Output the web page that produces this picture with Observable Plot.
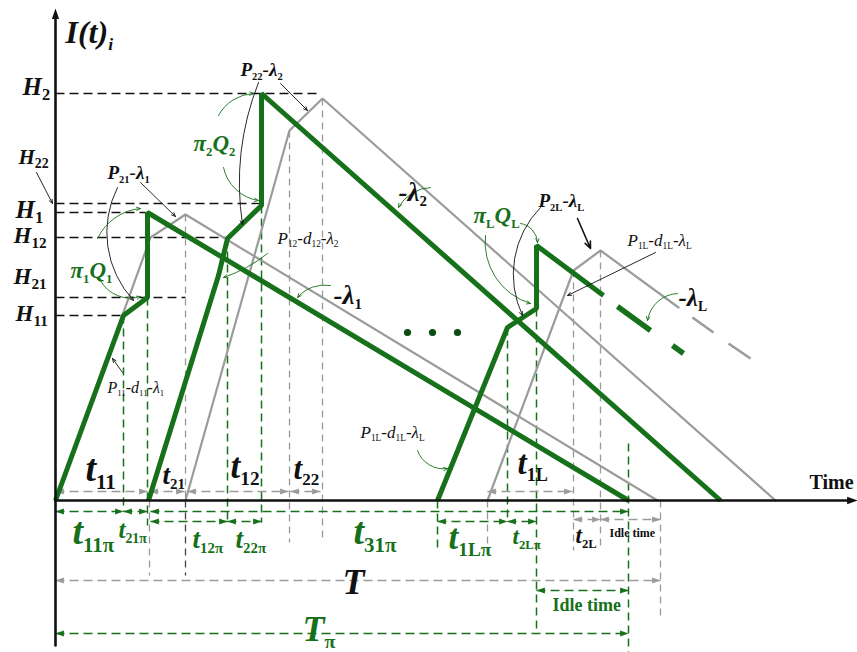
<!DOCTYPE html>
<html><head><meta charset="utf-8">
<script src="https://cdn.jsdelivr.net/npm/d3@7"></script>
<script src="https://cdn.jsdelivr.net/npm/@observablehq/plot@0.6"></script>
<style>body{margin:0;background:#fff}</style>
</head><body><div id="chart"></div>
<script>
// ---------- data (t = time units from origin, I = inventory level) ----------
const greenCycle1 = [{t:0,I:0},{t:68,I:185},{t:92,I:203},{t:92,I:288},{t:573,I:0}];
const greenCycle2 = [{t:93,I:0},{t:163,I:225},{t:172,I:262},{t:206,I:295},{t:206,I:407},{t:665,I:0}];
const greenCycleL = [{t:382,I:0},{t:452,I:173},{t:481,I:192},{t:481,I:255},{t:548,I:205}];
const greenLDashes = [{t1:562,I1:194,t2:595,I2:170},{t1:617,I1:155,t2:628,I2:147}];
const grayCycle1 = [{t:0,I:0},{t:95,I:263},{t:130,I:286},{t:602,I:0}];
const grayCycle2 = [{t:130,I:0},{t:234,I:370},{t:267,I:402},{t:720,I:0}];
const grayCycleL = [{t:432,I:0},{t:518,I:230},{t:545,I:250},{t:623,I:193}];
const grayLDashes = [{t1:637,I1:183,t2:658,I2:168},{t1:673,I1:157,t2:695,I2:142}];

const hLevels = [
  {name:"H_{2}", I:407, end:263, lt:-33, ly:406, size:25},
  {name:"H_{22}", I:297, end:207, lt:-37, ly:337, size:21},
  {name:"H_{1}", I:288, end:90, lt:-40, ly:283, size:25},
  {name:"H_{12}", I:263, end:170, lt:-42, ly:258, size:23},
  {name:"H_{21}", I:203, end:130, lt:-42, ly:217, size:23},
  {name:"H_{11}", I:185, end:70, lt:-40, ly:180, size:23}
];

const grayVert = [
  {t:94,from:0,to:-75},{t:130,from:286,to:0},{t:234,from:370,to:-42},{t:267,from:402,to:-42},
  {t:432,from:0,to:-52},{t:518,from:230,to:-50},{t:545,from:250,to:-50},{t:605,from:0,to:-117}
];
const darkVert = [{t:130,from:0,to:-75}];
const greenVert = [
  {t:68,from:185,to:-11},{t:92,from:203,to:-25},{t:172,from:262,to:-22},{t:206,from:295,to:-22},
  {t:382,from:0,to:-52},{t:452,from:173,to:-22},{t:481,from:192,to:-133},{t:573,from:57,to:-152}
];

const grayDims = [
  {t1:0,t2:92,I:9},{t1:94,t2:129,I:9},{t1:132,t2:233,I:9},{t1:235,t2:265,I:9},{t1:432,t2:517,I:9},
  {t1:518,t2:545,I:-19},{t1:545,t2:605,I:-19},{t1:0,t2:605,I:-80}
];
const greenDims = [
  {t1:0,t2:68,I:-11},{t1:68,t2:92,I:-11},{t1:95,t2:573,I:-11},
  {t1:95,t2:172,I:-21},{t1:172,t2:206,I:-21},{t1:382,t2:452,I:-21},{t1:452,t2:481,I:-21},
  {t1:481,t2:573,I:-90},{t1:0,t2:573,I:-133}
];

const blackBoldLabels = [
  {s:"I(t)_{i}", t:10, I:458, size:32},
  {s:"t_{11}", t:30, I:20, size:38},
  {s:"t_{21}", t:107, I:17, size:27},
  {s:"t_{12}", t:175, I:23, size:35},
  {s:"t_{22}", t:238, I:22, size:31},
  {s:"t_{1L}", t:462, I:27, size:33},
  {s:"t_{2L}", t:520, I:-42, size:23},
  {s:"T", t:287, I:-93, size:36},
  {s:"P_{22}-λ_{2}", t:185, I:425, size:19},
  {s:"P_{21}-λ_{1}", t:52, I:322, size:19},
  {s:"P_{2L}-λ_{L}", t:483, I:294, size:19},
  {s:"-λ_{1}", t:278, I:197, size:27},
  {s:"-λ_{2}", t:343, I:300, size:27},
  {s:"-λ_{L}", t:623, I:195, size:25}
];
const blackItalicLabels = [
  {s:"P_{12}-d_{12}-λ_{2}", t:222, I:257, size:17},
  {s:"P_{11}-d_{11}-λ_{1}", t:52, I:108, size:16},
  {s:"P_{1L}-d_{1L}-λ_{L}", t:305, I:63, size:17},
  {s:"P_{1L}-d_{1L}-λ_{L}", t:572, I:255, size:17}
];
const greenLabels = [
  {s:"t_{11π}", t:17, I:-43, size:38},
  {s:"t_{21π}", t:63, I:-37, size:25},
  {s:"t_{12π}", t:137, I:-47, size:27},
  {s:"t_{22π}", t:180, I:-47, size:27},
  {s:"t_{31π}", t:298, I:-43, size:38},
  {s:"t_{1Lπ}", t:393, I:-48, size:35},
  {s:"t_{2Lπ}", t:457, I:-43, size:23},
  {s:"T_{π}", t:247, I:-140, size:36},
  {s:"π_{1}Q_{1}", t:15, I:223, size:23},
  {s:"π_{2}Q_{2}", t:138, I:350, size:23},
  {s:"π_{L}Q_{L}", t:418, I:278, size:23}
];
const uprightLabels = [
  {s:"Time", t:754, I:12, size:20, c:"black"},
  {s:"Idle time", t:554, I:-36, size:12, c:"black"},
  {s:"Idle time", t:497, I:-110, size:18, c:"green"}
];

const ellipsis = [{t:352,I:168},{t:377,I:168},{t:402,I:168}];

const annotations = [
  {x1:-19,y1:328,x2:-3,y2:297,bend:0,c:"k"},
  {x1:85,y1:318,x2:120,y2:284,bend:0,c:"k"},
  {x1:62,y1:313,x2:78,y2:200,bend:-35,c:"k"},
  {x1:42,y1:262,x2:85,y2:292,bend:30,c:"g"},
  {x1:45,y1:220,x2:85,y2:204,bend:-40,c:"g"},
  {x1:225,y1:417,x2:252,y2:390,bend:0,c:"k"},
  {x1:203,y1:418,x2:187,y2:276,bend:-15,c:"k"},
  {x1:163,y1:385,x2:198,y2:407,bend:30,c:"g"},
  {x1:168,y1:333,x2:203,y2:300,bend:-35,c:"g"},
  {x1:212,y1:247,x2:168,y2:223,bend:10,c:"g"},
  {x1:275,y1:215,x2:242,y2:203,bend:-30,c:"g"},
  {x1:375,y1:313,x2:343,y2:293,bend:-30,c:"g"},
  {x1:67,y1:128,x2:57,y2:142,bend:0,c:"k"},
  {x1:362,y1:50,x2:392,y2:32,bend:-40,c:"g"},
  {x1:430,y1:265,x2:475,y2:197,bend:-40,c:"g"},
  {x1:465,y1:277,x2:482,y2:258,bend:40,c:"g"},
  {x1:485,y1:293,x2:467,y2:185,bend:-35,c:"k"},
  {x1:522,y1:282,x2:535,y2:252,bend:0,c:"k",w:1.6},
  {x1:600,y1:248,x2:512,y2:205,bend:0,c:"k"},
  {x1:622,y1:207,x2:592,y2:180,bend:-40,c:"g"}
];

const axisY = [{t:0,I:-145},{t:0,I:484}];
const axisX = [{t:0,I:0},{t:795,I:0}];
const axisHeads = [{t:0,I:492,rot:-90},{t:802,I:0,rot:0}];

// ---------- styling ----------
const GREEN = "#17701a", GRAY = "#9b9b9b", BLACK = "#111";
const SERIF = "'Liberation Serif','Times New Roman',serif";

const headSymbol = {
  draw(ctx, size) {
    const r = Math.sqrt(size / Math.PI);
    ctx.moveTo(0, 0);
    ctx.lineTo(-2 * r, -0.7 * r);
    ctx.lineTo(-2 * r, 0.7 * r);
    ctx.closePath();
  }
};
const headsOf = dims => dims.flatMap(d => [{t:d.t1, I:d.I, rot:180}, {t:d.t2, I:d.I, rot:0}]);

const textMark = (data, opts) => Plot.text(data, {
  x: "t", y: "I", text: "s", fontSize: "size", textAnchor: "start", lineAnchor: "bottom",
  fontFamily: SERIF, ...opts
});

const marks = [
  Plot.link(hLevels, {x1: () => 0, x2: "end", y1: "I", y2: "I", stroke: BLACK, strokeWidth: 1.3, strokeDasharray: "9,5"}),
  Plot.link(grayVert, {x1: "t", x2: "t", y1: "from", y2: "to", stroke: GRAY, strokeWidth: 1.3, strokeDasharray: "7,5"}),
  Plot.link(darkVert, {x1: "t", x2: "t", y1: "from", y2: "to", stroke: "#444", strokeWidth: 1.3, strokeDasharray: "7,5"}),
  Plot.link(greenVert, {x1: "t", x2: "t", y1: "from", y2: "to", stroke: GREEN, strokeWidth: 1.5, strokeDasharray: "8,5"}),
  Plot.link(grayDims, {x1: "t1", x2: "t2", y1: "I", y2: "I", stroke: GRAY, strokeWidth: 1.5, strokeDasharray: "9,5"}),
  Plot.dot(headsOf(grayDims), {x: "t", y: "I", rotate: "rot", symbol: headSymbol, r: 4.2, fill: GRAY, stroke: "none"}),
  Plot.link(greenDims, {x1: "t1", x2: "t2", y1: "I", y2: "I", stroke: GREEN, strokeWidth: 1.6, strokeDasharray: "9,5"}),
  Plot.dot(headsOf(greenDims), {x: "t", y: "I", rotate: "rot", symbol: headSymbol, r: 4.2, fill: GREEN, stroke: "none"}),
  ...[grayCycle1, grayCycle2, grayCycleL].map(c => Plot.line(c, {x: "t", y: "I", stroke: GRAY, strokeWidth: 2.2, strokeLinejoin: "miter"})),
  Plot.link(grayLDashes, {x1: "t1", y1: "I1", x2: "t2", y2: "I2", stroke: GRAY, strokeWidth: 2.6}),
  ...[greenCycle1, greenCycle2, greenCycleL].map(c => Plot.line(c, {x: "t", y: "I", stroke: GREEN, strokeWidth: 5, strokeLinejoin: "miter", strokeLinecap: "butt"})),
  Plot.link(greenLDashes, {x1: "t1", y1: "I1", x2: "t2", y2: "I2", stroke: GREEN, strokeWidth: 5.5}),
  Plot.dot(ellipsis, {x: "t", y: "I", r: 3.6, fill: "#0e4d12", stroke: "none"}),
  Plot.line(axisY, {x: "t", y: "I", stroke: BLACK, strokeWidth: 2.6}),
  Plot.line(axisX, {x: "t", y: "I", stroke: BLACK, strokeWidth: 2.6}),
  Plot.dot(axisHeads, {x: "t", y: "I", rotate: "rot", symbol: headSymbol, r: 5.2, fill: BLACK, stroke: "none"}),
  ...annotations.map(a => Plot.arrow([a], {
    x1: "x1", y1: "y1", x2: "x2", y2: "y2", bend: a.bend,
    stroke: a.c === "g" ? GREEN : BLACK, strokeWidth: a.w || 0.9, headLength: 7, headAngle: 45
  })),
  textMark(hLevels, {x: "lt", y: "ly", text: "name", fill: BLACK, fontWeight: "bold", fontStyle: "italic"}),
  textMark(blackBoldLabels, {fill: BLACK, fontWeight: "bold", fontStyle: "italic"}),
  textMark(blackItalicLabels, {fill: BLACK, fontWeight: "normal", fontStyle: "italic"}),
  textMark(greenLabels, {fill: GREEN, fontWeight: "bold", fontStyle: "italic"}),
  textMark(uprightLabels.filter(d => d.c === "black"), {fill: BLACK, fontWeight: "bold"}),
  textMark(uprightLabels.filter(d => d.c === "green"), {fill: GREEN, fontWeight: "bold"})
];

const chart = Plot.plot({
  width: 857, height: 652, margin: 0,
  x: {domain: [-55, 802], axis: null},
  y: {domain: [-152, 500], axis: null},
  style: {background: "white", overflow: "visible"},
  marks
});
document.getElementById("chart").appendChild(chart);

// render "_{...}" as real subscript tspans
chart.querySelectorAll("text").forEach(el => {
  const s = el.textContent;
  if (!s.includes("_{")) return;
  const fs = parseFloat(el.getAttribute("font-size") || getComputedStyle(el).fontSize) || 16;
  const ratio = s.startsWith("H") ? 0.66 : 0.55;
  const parts = [];
  const re = /_\{([^}]*)\}/g;
  let last = 0, m;
  while ((m = re.exec(s))) {
    if (m.index > last) parts.push({s: s.slice(last, m.index), sub: false});
    parts.push({s: m[1], sub: true});
    last = re.lastIndex;
  }
  if (last < s.length) parts.push({s: s.slice(last), sub: false});
  el.textContent = "";
  const shift = fs * 0.22;
  let down = false;
  for (const p of parts) {
    const ts = document.createElementNS("http://www.w3.org/2000/svg", "tspan");
    ts.textContent = p.s;
    if (p.sub) {
      ts.setAttribute("font-size", (fs * ratio).toFixed(1));
      if (p.s !== "i") ts.setAttribute("font-style", "normal");
      if (!down) { ts.setAttribute("dy", shift.toFixed(1)); down = true; }
    } else if (down) { ts.setAttribute("dy", (-shift).toFixed(1)); down = false; }
    el.appendChild(ts);
  }
});
</script>
</body></html>
